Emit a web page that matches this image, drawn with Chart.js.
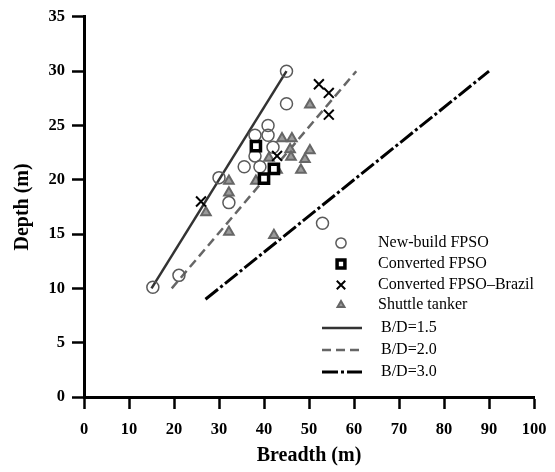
<!DOCTYPE html>
<html>
<head>
<meta charset="utf-8">
<script src="https://cdn.jsdelivr.net/npm/chart.js@4"></script>
<style>
  html, body { margin: 0; padding: 0; background: #fff; }
</style>
</head>
<body>
<canvas id="myChart" width="555" height="472"></canvas>
<script>
// data (breadth m, depth m)
var newBuild = [[15.3, 10.1], [21.1, 11.2], [30, 20.2], [32.2, 17.9], [35.6, 21.2], [38, 24.1], [38, 22.2],
  [39.1, 21.2], [40.9, 25], [40.9, 24.1], [42, 23], [45, 27], [45, 30], [53, 16]];
var converted = [[38.2, 23.1], [40, 20.1], [42.2, 21]];
var convertedBrazil = [[26, 18], [42.9, 22.2], [52.2, 28.8], [54.4, 28], [54.4, 26]];
var shuttle = [[27.1, 17], [32.2, 19.9], [32.2, 18.8], [32.2, 15.2], [38.2, 19.9], [41.1, 22], [42.9, 20.9],
  [42.2, 14.9], [44, 23.8], [46.2, 23.8], [45.8, 22.8], [46, 22.1], [48.2, 20.9], [49.1, 21.9], [50.2, 22.7], [50.2, 26.9]];
var bd15 = [[15, 10], [45, 30]];
var bd20 = [[19.5, 10], [60.5, 30]];
var bd30 = [[27, 9], [90, 30]];
var xTicks = [0, 10, 20, 30, 40, 50, 60, 70, 80, 90, 100];
var yTicks = [0, 5, 10, 15, 20, 25, 30, 35];

function pts(arr) {
  return arr.map(function (p) { return { x: p[0], y: p[1] }; });
}

var serif = "'Liberation Serif', 'Times New Roman', serif";

var datasets = [
  { label: 'New-build FPSO', data: pts(newBuild), pointStyle: 'circle', pointRadius: 6,
    borderColor: '#5a5a5a', backgroundColor: 'rgba(255,255,255,0)', pointBorderWidth: 1.5, showLine: false, order: 1 },
  { label: 'Converted FPSO', data: pts(converted), pointStyle: 'rect', pointRadius: 6.5,
    borderColor: '#000', backgroundColor: '#fff', pointBorderWidth: 3.5, showLine: false, order: 0 },
  { label: 'Converted FPSO\u2013Brazil', data: pts(convertedBrazil), pointStyle: 'crossRot', pointRadius: 7,
    borderColor: '#000', backgroundColor: '#000', pointBorderWidth: 2, showLine: false, order: 0 },
  { label: 'Shuttle tanker', data: pts(shuttle), pointStyle: 'triangle', pointRadius: 5.5,
    borderColor: '#666', backgroundColor: '#9a9a9a', pointBorderWidth: 2, showLine: false, order: 2 },
  { label: 'B/D=1.5', data: pts(bd15), showLine: true, pointRadius: 0, borderColor: '#333',
    borderWidth: 2.5, order: 3 },
  { label: 'B/D=2.0', data: pts(bd20), showLine: true, pointRadius: 0, borderColor: '#666',
    borderWidth: 2.5, borderDash: [9, 5], order: 3 },
  { label: 'B/D=3.0', data: pts(bd30), showLine: true, pointRadius: 0, borderColor: '#000',
    borderWidth: 3, borderDash: [16, 3, 3, 3], order: 3 }
];

// legend drawn inside the plot, like the original figure
var legendRows = [243, 264, 285, 305, 328, 350, 372];
var legendPlugin = {
  id: 'insideLegend',
  afterDraw: function (chart) {
    var ctx = chart.ctx;
    ctx.save();
    ctx.font = '16px ' + serif;
    ctx.fillStyle = '#000';
    ctx.textBaseline = 'middle';
    ctx.textAlign = 'left';
    chart.data.datasets.forEach(function (ds, i) {
      var y = legendRows[i];
      if (ds.showLine) {
        ctx.save();
        ctx.strokeStyle = ds.borderColor;
        ctx.lineWidth = ds.borderWidth;
        ctx.setLineDash(ds.borderDash || []);
        ctx.beginPath();
        ctx.moveTo(322, y);
        ctx.lineTo(362, y);
        ctx.stroke();
        ctx.restore();
        ctx.fillText(ds.label, 381, y);
      } else {
        ctx.save();
        ctx.strokeStyle = ds.borderColor;
        ctx.fillStyle = ds.backgroundColor;
        ctx.lineWidth = ds.pointBorderWidth;
        var r = ds.pointStyle === 'triangle' ? 4 : ds.pointRadius * 0.85;
        Chart.helpers.drawPoint(ctx, { pointStyle: ds.pointStyle, radius: r, rotation: 0,
          borderWidth: ds.pointBorderWidth }, 341, y);
        ctx.restore();
        ctx.fillText(ds.label, 378, y);
      }
    });
    ctx.restore();
  }
};

var ctx = document.getElementById('myChart').getContext('2d');
var myChart = new Chart(ctx, {
  type: 'scatter',
  data: { datasets: datasets },
  options: {
    responsive: false,
    animation: false,
    layout: { padding: { top: 12, right: 21, left: 0, bottom: 0 } },
    plugins: { legend: { display: false }, tooltip: { enabled: false } },
    scales: {
      x: {
        type: 'linear', min: 0, max: 100,
        afterBuildTicks: function (s) { s.ticks = xTicks.map(function (v) { return { value: v }; }); },
        afterFit: function (s) { s.height = 75; s.paddingRight = 0; s.paddingLeft = 0; },
        ticks: { color: '#000', padding: 11, font: { family: serif, size: 16.5, weight: 'bold' } },
        grid: { drawOnChartArea: false, tickLength: 12, tickWidth: 2.5, tickColor: '#000' },
        border: { color: '#000', width: 3 },
        title: { display: true, text: 'Breadth (m)', color: '#000', padding: { bottom: 4 },
          font: { family: serif, size: 20, weight: 'bold' } }
      },
      y: {
        type: 'linear', min: 0, max: 35,
        afterBuildTicks: function (s) { s.ticks = yTicks.map(function (v) { return { value: v }; }); },
        afterFit: function (s) { s.width = 84; },
        ticks: { color: '#000', padding: 7, font: { family: serif, size: 16.5, weight: 'bold' } },
        grid: { drawOnChartArea: false, tickLength: 12, tickWidth: 2.5, tickColor: '#000' },
        border: { color: '#000', width: 3 },
        title: { display: true, text: 'Depth (m)', color: '#000', padding: { top: 11 },
          font: { family: serif, size: 20, weight: 'bold' } }
      }
    }
  },
  plugins: [legendPlugin]
});
</script>
</body>
</html>
